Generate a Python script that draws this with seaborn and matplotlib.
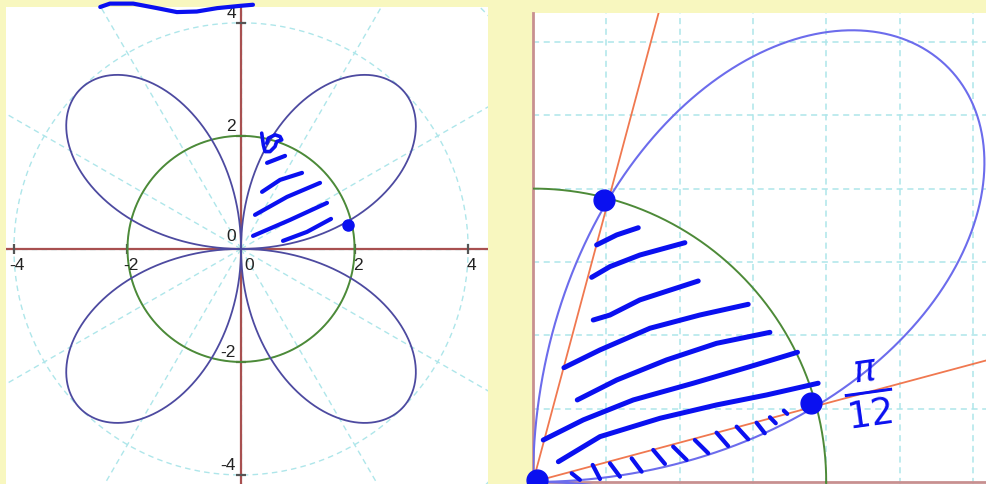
import numpy as np
import pandas as pd
import matplotlib
matplotlib.use("Agg")
import matplotlib.pyplot as plt
import matplotlib.transforms as mtransforms
import seaborn as sns

# ---------------- data ----------------
rose_amplitude = 4.0          # r = a * sin(k * theta)
rose_k = 2
circle_radius = 2.0
intersect_angles = [np.pi / 12, 5 * np.pi / 12]

left_xticks = [-4, -2, 2, 4]
left_yticks = [4, 2, -2, -4]
grid_radii = [2, 4, 6]
grid_angles_deg = list(range(0, 360, 30))

right_major = [1, 2, 3]
right_minor = [0.5, 1.5, 2.5]

# hand-drawn ink (data coordinates of each panel)
left_top_x = [-2.48, -2.31, -1.90, -1.48, -1.13, -0.78, -0.42, -0.02, 0.21]
left_top_y = [4.28, 4.34, 4.34, 4.26, 4.19, 4.20, 4.26, 4.30, 4.32]
left_six_x = [0.364, 0.393, 0.423, 0.511, 0.599, 0.628, 0.717, 0.687, 0.599, 0.481, 0.453]
left_six_y = [2.048, 1.841, 1.722, 1.722, 1.811, 1.899, 1.929, 1.988, 2.018, 1.959, 1.870]
left_hatch = [
    ([0.458, 0.775], [1.522, 1.646]),
    ([0.370, 0.687, 1.074], [1.009, 1.221, 1.345]),
    ([0.246, 0.810, 1.391], [0.602, 0.920, 1.168]),
    ([0.211, 0.863, 1.514], [0.230, 0.513, 0.814]),
    ([0.739, 1.162, 1.585], [0.142, 0.301, 0.531]),
]
left_dot = (1.884, 0.425)

right_hatch = [
    ([0.434, 0.571, 0.718], [1.616, 1.684, 1.733]),
    ([0.400, 0.525, 0.729, 1.036], [1.395, 1.468, 1.547, 1.631]),
    ([0.411, 0.525, 0.729, 1.127], [1.104, 1.138, 1.241, 1.370]),
    ([0.211, 0.457, 0.798, 1.138, 1.468], [0.779, 0.900, 1.048, 1.138, 1.211]),
    ([0.302, 0.571, 0.911, 1.252, 1.616], [0.559, 0.695, 0.832, 0.945, 1.020]),
    ([0.070, 0.343, 0.684, 1.093, 1.479, 1.804], [0.286, 0.423, 0.559, 0.673, 0.786, 0.884]),
    ([0.173, 0.457, 0.866, 1.252, 1.593, 1.945], [0.138, 0.309, 0.434, 0.525, 0.593, 0.673]),
]
right_ticks_ink = [
    ([0.264, 0.320], [0.059, 0.014]),
    ([0.407, 0.457], [0.116, 0.020]),
    ([0.525, 0.593], [0.127, 0.036]),
    ([0.673, 0.741], [0.161, 0.070]),
    ([0.820, 0.900], [0.218, 0.123]),
    ([0.956, 1.048], [0.241, 0.150]),
    ([1.104, 1.195], [0.286, 0.196]),
    ([1.252, 1.331], [0.336, 0.245]),
    ([1.389, 1.468], [0.377, 0.291]),
    ([1.525, 1.581], [0.404, 0.332]),
    ([1.616, 1.656], [0.441, 0.400]),
    ([1.711, 1.734], [0.486, 0.464]),
]
right_dots_x = [0.486, 1.895, 0.025]
right_dots_y = [1.922, 0.541, 0.014]
label_pi12 = r"$\frac{\pi}{12}$"
label_pi12_pos = (2.29, 0.60)

# ---------------- style ----------------
sns.set_theme(style="white")
plt.rcParams["font.family"] = ["Liberation Sans", "DejaVu Sans"]

BG = "#f8f7bf"
ROSE_DARK = "#4d4aa0"
ROSE_LIGHT = "#6c6cec"
GREEN = "#4d8a38"
AXIS_RED = "#a85050"
AXIS_PINK = "#c89090"
GRID = "#aee6ea"
ORANGE = "#f07850"
INK = "#0a10f0"

fig = plt.figure(figsize=(9.86, 4.84), dpi=100)
fig.patch.set_facecolor(BG)

theta = np.linspace(0, 2 * np.pi, 2001)
r = rose_amplitude * np.sin(rose_k * theta)
rose_df = pd.DataFrame({"x": r * np.cos(theta), "y": r * np.sin(theta)})
circ_df = pd.DataFrame({"x": circle_radius * np.cos(theta), "y": circle_radius * np.sin(theta)})

# ---------------- left panel ----------------
axL = fig.add_axes([6 / 986, 0, 482 / 986, 477 / 484])
axL.set_facecolor("white")
axL.set_xlim(-4.14, 4.35)
axL.set_ylim(-4.16, 4.28)
for s in axL.spines.values():
    s.set_visible(False)
axL.set_xticks([])
axL.set_yticks([])

for rg in grid_radii:
    axL.plot(rg * np.cos(theta), rg * np.sin(theta), color=GRID, lw=1, ls=(0, (4, 3)), zorder=1)
for a in grid_angles_deg:
    ar = np.deg2rad(a)
    axL.plot([0, 8 * np.cos(ar)], [0, 8 * np.sin(ar)], color=GRID, lw=1, ls=(0, (4, 3)), zorder=1)

axL.axhline(0, color=AXIS_RED, lw=1.6, zorder=2)
axL.axvline(0, color=AXIS_RED, lw=1.6, zorder=2)
axL.plot(left_xticks, [0] * len(left_xticks), ls="none", marker="|", ms=7, mew=1.6, color="#555555", zorder=3)
axL.plot([0] * len(left_yticks), left_yticks, ls="none", marker="_", ms=7, mew=1.6, color="#555555", zorder=3)

sns.lineplot(data=circ_df, x="x", y="y", sort=False, estimator=None, color=GREEN, lw=1.4, ax=axL, zorder=4)
sns.lineplot(data=rose_df, x="x", y="y", sort=False, estimator=None, color=ROSE_DARK, lw=1.3, ax=axL, zorder=5)

fs = 12.5
for v in left_xticks:
    tr = mtransforms.offset_copy(axL.transData, fig=fig, x=3, y=-9, units="dots")
    axL.text(v, 0, str(v), transform=tr, ha="center", va="top", fontsize=fs, color="#222222", zorder=6)
for v in left_yticks:
    tr = mtransforms.offset_copy(axL.transData, fig=fig, x=-5, y=9, units="dots")
    axL.text(0, v, str(v), transform=tr, ha="right", va="center", fontsize=fs, color="#222222", zorder=6)
trz1 = mtransforms.offset_copy(axL.transData, fig=fig, x=-5, y=12, units="dots")
axL.text(0, 0, "0", transform=trz1, ha="right", va="center", fontsize=fs, color="#222222", zorder=6)
trz2 = mtransforms.offset_copy(axL.transData, fig=fig, x=3, y=-9, units="dots")
axL.text(0, 0, "0", transform=trz2, ha="left", va="top", fontsize=fs, color="#222222", zorder=6)

ink_kw = dict(color=INK, solid_capstyle="round", solid_joinstyle="round", zorder=8)
axL.plot(left_top_x, left_top_y, lw=3.0, clip_on=False, **ink_kw)
axL.plot(left_six_x, left_six_y, lw=2.6, **ink_kw)
for xs, ys in left_hatch:
    axL.plot(xs, ys, lw=3.0, **ink_kw)
axL.plot([left_dot[0]], [left_dot[1]], marker="o", ms=8, color=INK, ls="none", zorder=8)
axL.set_xlabel("")
axL.set_ylabel("")

# ---------------- right panel ----------------
axR = fig.add_axes([533 / 986, 0, 453 / 986, 471 / 484])
axR.set_facecolor("white")
axR.set_xlim(0, 3.09)
axR.set_ylim(-0.014, 3.197)
for name in ["top", "right"]:
    axR.spines[name].set_visible(False)
axR.spines["left"].set_color(AXIS_PINK)
axR.spines["bottom"].set_color(AXIS_PINK)
axR.spines["left"].set_linewidth(2)
axR.spines["bottom"].set_linewidth(2)
axR.spines["bottom"].set_position(("data", 0))
axR.set_xticks(right_major)
axR.set_yticks(right_major)
axR.set_xticks(right_minor, minor=True)
axR.set_yticks(right_minor, minor=True)
axR.set_xticklabels([])
axR.set_yticklabels([])
axR.tick_params(which="major", direction="in", length=4, width=1.2, color="#555555")
axR.tick_params(which="minor", length=0)
axR.grid(True, which="both", color=GRID, lw=1.1, ls=(0, (4, 3)))
axR.set_axisbelow(True)

for ang in intersect_angles:
    axR.plot([0, 6 * np.cos(ang)], [0, 6 * np.sin(ang)], color=ORANGE, lw=1.3, zorder=3)
sns.lineplot(data=circ_df, x="x", y="y", sort=False, estimator=None, color=GREEN, lw=1.4, ax=axR, zorder=4)
sns.lineplot(data=rose_df, x="x", y="y", sort=False, estimator=None, color=ROSE_LIGHT, lw=1.5, ax=axR, zorder=5)

for xs, ys in right_hatch:
    axR.plot(xs, ys, lw=3.6, **ink_kw)
for xs, ys in right_ticks_ink:
    axR.plot(xs, ys, lw=3.0, **ink_kw)
axR.plot(right_dots_x, right_dots_y, marker="o", ms=15, color=INK, ls="none", zorder=9, clip_on=False)
axR.text(label_pi12_pos[0], label_pi12_pos[1], label_pi12, color=INK, fontsize=38, ha="center", va="center",
         rotation=8, zorder=9)
axR.set_xlabel("")
axR.set_ylabel("")

fig.savefig("out.png", dpi=100, facecolor=BG)
